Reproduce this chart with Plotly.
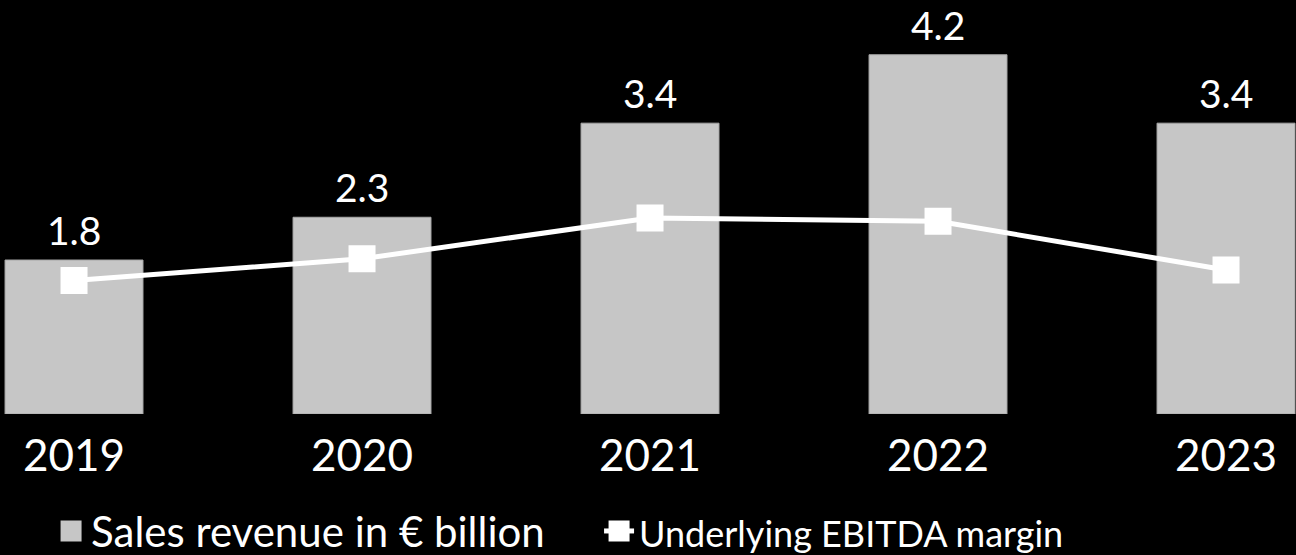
import plotly.graph_objects as go

# Data
years = ["2019", "2020", "2021", "2022", "2023"]
sales_bn = [1.8, 2.3, 3.4, 4.2, 3.4]          # sales revenue, € billion
ebitda_margin = [16.7, 19.4, 24.5, 24.1, 18.0]  # underlying EBITDA margin, %

FONT = "Lato"
BAR_COLOR = "#c6c6c6"
idx = list(range(len(years)))

fig = go.Figure()

fig.add_trace(go.Bar(
    x=idx,
    y=sales_bn,
    name="Sales revenue in € billion",
    marker=dict(color=BAR_COLOR, line=dict(color="#a8a8a8", width=1)),
    width=0.479,
    yaxis="y",
    showlegend=False,
    legendgroup="sales",
))

# legend entry for the bars (square swatch)
fig.add_trace(go.Scatter(
    x=[None], y=[None],
    name="Sales revenue in € billion",
    mode="markers",
    marker=dict(symbol="square", size=16, color=BAR_COLOR,
                line=dict(color=BAR_COLOR, width=5)),
    legendgroup="sales",
))

fig.add_trace(go.Scatter(
    x=idx,
    y=ebitda_margin,
    name='<span style="font-size:36px">Underlying EBITDA margin</span>',
    mode="lines+markers",
    line=dict(color="white", width=5),
    marker=dict(symbol="square", size=22, color="white",
                line=dict(color="white", width=5)),
    yaxis="y2",
    cliponaxis=False,
))

# value labels above bars
for i, v in zip(idx, sales_bn):
    fig.add_annotation(
        x=i, y=v, xref="x", yref="y",
        text=f"{v:.1f}", showarrow=False,
        yanchor="bottom", yshift=5,
        font=dict(family=FONT, size=39, color="white"),
    )

fig.update_layout(
    width=1296, height=555,
    paper_bgcolor="black", plot_bgcolor="black",
    margin=dict(l=0, r=0, t=0, b=141, autoexpand=False),
    bargap=0.52,
    showlegend=True,
    legend=dict(
        orientation="h",
        x=0.0394, xanchor="left",
        y=-0.283, yanchor="middle",
        font=dict(family=FONT, size=42, color="white"),
        bgcolor="rgba(0,0,0,0)",
        itemsizing="trace",
        traceorder="normal",
        entrywidth=503,
    ),
    xaxis=dict(
        range=[-0.257, 4.243],
        tickmode="array",
        tickvals=idx,
        ticktext=years,
        showgrid=False, zeroline=False, showline=False,
        ticks="",
        tickfont=dict(family=FONT, size=44, color="white"),
        ticklabelstandoff=12,
    ),
    yaxis=dict(
        range=[0, 4.84],
        visible=False,
        showgrid=False, zeroline=False,
    ),
    yaxis2=dict(
        range=[0, 51.75],
        overlaying="y",
        side="right",
        visible=False,
        showgrid=False, zeroline=False,
    ),
)

fig.write_html("out.html")
